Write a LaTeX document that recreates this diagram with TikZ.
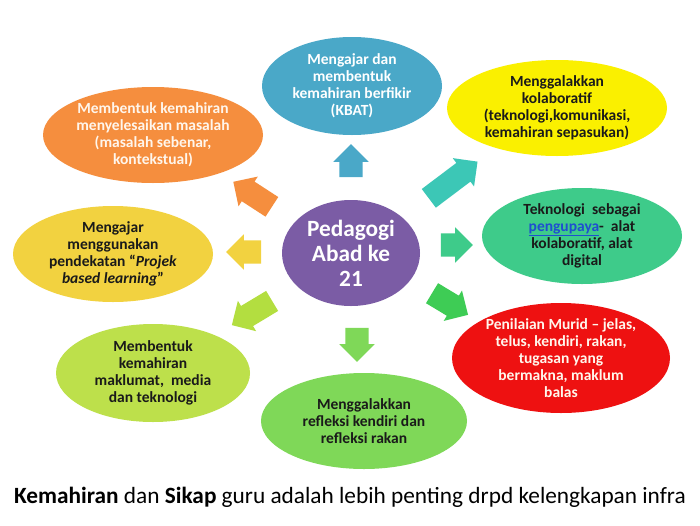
\documentclass[tikz,border=0pt]{standalone}
\usepackage{fontspec}
\setmainfont{Carlito}
\usetikzlibrary{shapes.geometric,shapes.arrows}
\definecolor{cblue}{HTML}{4AA8C8}
\definecolor{cyellow}{HTML}{FAF000}
\definecolor{cteal}{HTML}{3ECB8A}
\definecolor{cred}{HTML}{EE1111}
\definecolor{cgreen}{HTML}{7FD858}
\definecolor{clime}{HTML}{BDE04B}
\definecolor{cgold}{HTML}{F2D240}
\definecolor{corange}{HTML}{F58E3E}
\definecolor{cpurple}{HTML}{7B5CA5}
\definecolor{aTR}{HTML}{3CC7B6}
\definecolor{aLR}{HTML}{3ECC55}
\definecolor{aLL}{HTML}{B3DE40}
\definecolor{alink}{HTML}{1F4FD0}
\definecolor{darktext}{HTML}{1A1A1A}
\definecolor{lighttext}{HTML}{FFF6EC}
\tikzset{
  oval/.style={ellipse, draw=none, inner sep=0pt},
  otext/.style={align=center, font=\fontsize{15.5}{17}\selectfont\bfseries, inner sep=0pt},
  blockarrow/.style={single arrow, draw=none, inner xsep=0pt, inner ysep=11.5pt,
     single arrow head extend=6pt, single arrow head indent=0pt, minimum height=#1},
}
\begin{document}
\begin{tikzpicture}[x=1pt,y=-1pt]
\useasboundingbox (0,0) rectangle (700,525);
\fill[white] (0,0) rectangle (700,525);
% ellipses
\node[oval, fill=cblue, minimum width=180pt, minimum height=98pt] (e1) at (352,86) {};
\node[otext, text=white] (t1) at (e1.center) {Mengajar dan\\membentuk\\kemahiran berfikir\\(KBAT)};
\node[oval, fill=cyellow, minimum width=220pt, minimum height=96pt] (e2) at (557,108) {};
\node[otext, text=darktext] (t2) at (e2.center) {Menggalakkan\\kolaboratif\\(teknologi,komunikasi,\\kemahiran sepasukan)};
\node[oval, fill=cteal, minimum width=200pt, minimum height=96pt] (e3) at (582,236) {};
\node[otext, text=darktext] (t3) at (e3.center) {Teknologi\ \ sebagai\\{\color{alink}\underline{pengupaya}}-\ \ alat\\kolaboratif, alat\\digital};
\node[oval, fill=cred, minimum width=218pt, minimum height=110pt] (e4) at (561,358) {};
\node[otext, text=lighttext] (t4) at (e4.center) {Penilaian Murid -- jelas,\\telus, kendiri, rakan,\\tugasan yang\\bermakna, maklum\\balas};
\node[oval, fill=cgreen, minimum width=206pt, minimum height=96pt] (e5) at (364,421) {};
\node[otext, text=darktext] (t5) at (e5.center) {Menggalakkan\\refleksi kendiri dan\\refleksi rakan};
\node[oval, fill=clime, minimum width=194pt, minimum height=98pt] (e6) at (153,373) {};
\node[otext, text=darktext] (t6) at (e6.center) {Membentuk\\kemahiran\\maklumat,\ \ media\\dan teknologi};
\node[oval, fill=cgold, minimum width=200pt, minimum height=96pt] (e7) at (113,254) {};
\node[otext, text=darktext] (t7) at (e7.center) {Mengajar\\menggunakan\\pendekatan “\textit{Projek}\\\textit{based learning}”};
\node[oval, fill=corange, minimum width=220pt, minimum height=96pt] (e8) at (153,135) {};
\node[otext, text=lighttext] (t8) at (e8.center) {Membentuk kemahiran\\menyelesaikan masalah\\(masalah sebenar,\\kontekstual)};
% centre
\node[oval, fill=cpurple, minimum width=138pt, minimum height=106pt] (c) at (351,253) {};
\node[align=center, text=white, font=\fontsize{23.3}{25}\selectfont\bfseries, inner sep=0pt] (ct) at (c.center) {Pedagogi\\Abad ke\\21};
% block arrows
\node[blockarrow=33pt, fill=cblue, rotate=90] (a1) at (351,166.5) {};
\node[blockarrow=61pt, fill=aTR, rotate=37] (a2) at (448.5,183.5) {};
\node[blockarrow=32pt, fill=cteal, rotate=0] (a3) at (451,245) {};
\node[blockarrow=42pt, fill=aLR, rotate=-31] (a4) at (445,301) {};
\node[blockarrow=34pt, fill=cgreen, rotate=-90] (a5) at (357,339) {};
\node[blockarrow=47pt, fill=aLL, rotate=211] (a6) at (257,310) {};
\node[blockarrow=35pt, fill=cgold, rotate=180] (a7) at (249.5,252) {};
\node[blockarrow=46pt, fill=corange, rotate=147] (a8) at (257.5,197.5) {};
% caption
\node[font=\fontsize{23.3}{26}\selectfont, text=black, inner sep=0pt] (cap) at (350,497) {\textbf{Kemahiran} dan \textbf{Sikap} guru adalah lebih penting drpd kelengkapan infra};
\end{tikzpicture}
\end{document}
